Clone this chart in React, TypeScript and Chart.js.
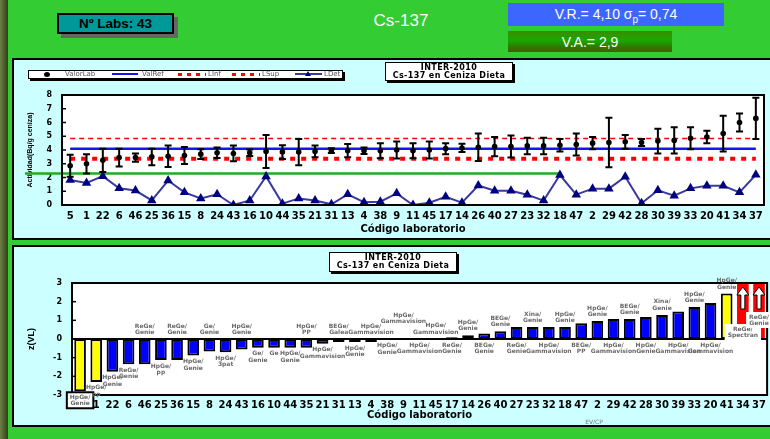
import React, { useEffect, useRef } from "react";
import { Chart, registerables } from "chart.js";
Chart.register(...registerables);

// ---------- DATA ----------
const labCodes = ["5","1","22","6","46","25","36","15","8","24","43","16","10","44","35","21","31","13","4","38","9","11","45","17","14","26","40","27","23","32","18","47","2","29","42","28","30","39","33","20","41","34","37"];
const labValues = [2.85,3.0,3.25,3.45,3.45,3.5,3.55,3.6,3.7,3.8,3.75,3.8,3.9,3.85,3.85,3.9,3.95,3.95,3.95,3.95,4.0,3.95,4.0,4.1,4.15,4.2,4.25,4.25,4.3,4.3,4.35,4.4,4.5,4.55,4.6,4.55,4.65,4.7,4.85,4.95,5.2,6.0,6.3];
const labUnc = [0.8,0.7,0.85,0.65,0.3,0.6,0.78,0.62,0.36,0.38,0.57,0.23,1.2,0.5,0.95,0.43,0.17,0.48,0.24,0.55,0.62,0.55,0.62,0.4,0.3,1.0,0.7,0.8,0.6,0.6,0.45,0.8,0.45,1.8,0.5,0.25,0.9,0.95,0.8,0.45,1.3,0.65,1.5];
const ldetValues = [1.82,1.6,2.1,1.21,1.05,0.33,1.78,0.92,0.48,0.78,0.0,0.33,2.08,0.1,0.48,0.32,0.05,0.78,0.2,0.24,0.85,0.0,0.17,0.6,0.17,1.42,1.04,1.04,0.75,0.32,2.18,0.75,1.19,1.19,2.06,0.12,1.07,0.68,1.21,1.4,1.4,0.92,2.2];
const refValue = 4.1;
const lowerLimit = 3.36;
const upperLimit = 4.84;
const greenLevel = 2.3;
const greenEndLab = "18";
const yTicksTop = { min: 0, max: 8, step: 1 };
const yTicksBottom = { min: -3, max: 3, step: 1 };

const zScores = [-2.8,-2.3,-1.76,-1.35,-1.35,-1.13,-1.13,-0.89,-0.67,-0.71,-0.56,-0.47,-0.47,-0.47,-0.47,-0.25,-0.16,-0.16,-0.16,-0.05,-0.03,-0.02,0.02,0.1,0.2,0.3,0.42,0.64,0.64,0.64,0.64,0.84,0.96,1.07,1.07,1.18,1.29,1.47,1.71,1.93,2.44,3.5,3.5];
const techLine1 = ["HpGe/","HpGe/","HpGe/","ReGe/","ReGe/","HpGe/","ReGe/","HpGe/","Ge/","HpGe/","HpGe/","Ge/","Ge","HpGe/","HpGe/","HpGe/","BEGe/","HpGe/","HpGe/","HpGe/","HpGe/","HpGe/","HpGe/","ReGe/","HpGe/","BEGe/","BEGe/","ReGe/","Xina/","HpGe/","HpGe/","BEGe/","HpGe/","HpGe/","BEGe/","HpGe/","Xina/","HpGe/","HpGe/","HpGe/","HpGe/","ReGe/","ReGe/"];
const techLine2 = ["Genie","pp","Genie","Genie","Genie","pp","Genie","Genie","Genie","3pat","Genie","Genie","","Genie","PP","Gammavision","Galea","Genie","Gammavision","Genie","Gammavision","Gammavision","Gammavision","Genie","Genie","Genie","Genie","Genie","Genie","Gammavision","Genie","PP","Genie","Gammavision","Genie","Genie","Genie","Gammavision","Genie","Gammavision","Genie","Spectran","Genie"];
const labelSide = ["B","B","B","B","A","B","A","B","A","B","A","B","B","B","A","B","A","B","A","B","A","B","A","B","A","B","A","B","A","B","A","B","A","B","A","B","A","B","A","B","A","B","A"];
const highlightLab = "5";

// ---------- PLUGINS ----------
const whiteArea = {
  id: "whiteArea",
  beforeDraw(chart: any) {
    const { ctx, chartArea: a } = chart;
    ctx.save();
    ctx.fillStyle = "#FFFFFF";
    ctx.fillRect(a.left, a.top, a.right - a.left, a.bottom - a.top);
    ctx.restore();
  },
};

const frame = {
  id: "frame",
  afterDraw(chart: any) {
    const { ctx, chartArea: a, scales } = chart;
    ctx.save();
    ctx.strokeStyle = "#000";
    ctx.lineWidth = 2;
    ctx.strokeRect(a.left, a.top, a.right - a.left, a.bottom - a.top);
    ctx.lineWidth = 1.5;
    scales.y.ticks.forEach((t: any) => {
      const yy = scales.y.getPixelForValue(t.value);
      ctx.beginPath();
      ctx.moveTo(a.left, yy);
      ctx.lineTo(a.left + 4, yy);
      ctx.stroke();
    });
    ctx.restore();
  },
};

const greenLine = {
  id: "greenLine",
  beforeDatasetsDraw(chart: any) {
    const { ctx, scales } = chart;
    const endIdx = labCodes.indexOf(greenEndLab);
    const x0 = scales.y.left + 11;
    const x1 = scales.x.getPixelForValue(endIdx);
    const yy = scales.y.getPixelForValue(greenLevel);
    ctx.save();
    ctx.strokeStyle = "#22AA22";
    ctx.lineWidth = 2.5;
    ctx.beginPath();
    ctx.moveTo(x0, yy);
    ctx.lineTo(x1, yy);
    ctx.stroke();
    ctx.restore();
  },
};

const errorBars = {
  id: "errorBars",
  beforeDatasetDraw(chart: any, args: any) {
    if (args.index !== 0) return;
    const { ctx, scales } = chart;
    const meta = chart.getDatasetMeta(0);
    ctx.save();
    ctx.strokeStyle = "#000";
    ctx.lineWidth = 2;
    labValues.forEach((v, i) => {
      const x = meta.data[i].x;
      const y1 = scales.y.getPixelForValue(v + labUnc[i]);
      const y2 = scales.y.getPixelForValue(v - labUnc[i]);
      ctx.beginPath();
      ctx.moveTo(x, y1);
      ctx.lineTo(x, y2);
      ctx.moveTo(x - 3.5, y1);
      ctx.lineTo(x + 3.5, y1);
      ctx.moveTo(x - 3.5, y2);
      ctx.lineTo(x + 3.5, y2);
      ctx.stroke();
    });
    ctx.restore();
  },
};

const zeroLine = {
  id: "zeroLine",
  afterDatasetsDraw(chart: any) {
    const { ctx, chartArea: a, scales } = chart;
    const yy = scales.y.getPixelForValue(0);
    ctx.save();
    ctx.strokeStyle = "#000";
    ctx.lineWidth = 2;
    ctx.beginPath();
    ctx.moveTo(a.left, yy);
    ctx.lineTo(a.right, yy);
    ctx.stroke();
    const meta = chart.getDatasetMeta(0);
    zScores.forEach((z, i) => {
      if (z <= scales.y.max) return;
      const x = meta.data[i].x;
      const tip = a.top + 4;
      const hw = 6, hh = 8, sw = 2;
      ctx.beginPath();
      ctx.moveTo(x, tip);
      ctx.lineTo(x + hw, tip + hh);
      ctx.lineTo(x + sw, tip + hh);
      ctx.lineTo(x + sw, tip + hh + 14);
      ctx.lineTo(x - sw, tip + hh + 14);
      ctx.lineTo(x - sw, tip + hh);
      ctx.lineTo(x - hw, tip + hh);
      ctx.closePath();
      ctx.fillStyle = "#FFFFFF";
      ctx.fill();
      ctx.lineWidth = 1;
      ctx.strokeStyle = "#000";
      ctx.stroke();
    });
    ctx.restore();
  },
};

const techLabels = {
  id: "techLabels",
  afterDraw(chart: any) {
    const { ctx, scales } = chart;
    const y = scales.y;
    const meta = chart.getDatasetMeta(0);
    const zeroY = y.getPixelForValue(0);
    const lh = 6.5;
    ctx.save();
    ctx.font = 'bold 6px "DejaVu Sans"';
    ctx.textAlign = "center";
    ctx.textBaseline = "top";
    const placed: any[] = [];
    zScores.forEach((z, i) => {
      const x = meta.data[i].x;
      const lines = [techLine1[i], techLine2[i]].filter((t) => t);
      const w = Math.max(...lines.map((t) => ctx.measureText(t).width));
      const h = lines.length * lh;
      const clipped = z > y.max || z < y.min;
      let top: number;
      if (clipped) {
        top = labelSide[i] === "A" ? zeroY - 2 * h + 1 : zeroY - h;
      } else if (labelSide[i] === "A") {
        top = y.getPixelForValue(Math.max(0, z)) - 3 - h;
        let guard = 0;
        while (
          guard++ < 5 &&
          placed.some(
            (p) =>
              Math.min(p.x1, x + w / 2) - Math.max(p.x0, x - w / 2) > 3 &&
              Math.min(p.y1, top + h) - Math.max(p.y0, top) > 3
          )
        ) {
          top -= h - 2;
        }
        placed.push({ x0: x - w / 2, x1: x + w / 2, y0: top, y1: top + h });
      } else {
        top = y.getPixelForValue(Math.min(0, z)) + 3;
      }
      const isHi = labCodes[i] === highlightLab;
      if (clipped || isHi) {
        ctx.fillStyle = "#FFFFFF";
        ctx.fillRect(x - w / 2 - 3, top - 2, w + 6, h + 3);
      }
      if (isHi) {
        ctx.strokeStyle = "#000";
        ctx.lineWidth = 2;
        ctx.strokeRect(x - w / 2 - 3, top - 2, w + 6, h + 3);
      }
      ctx.fillStyle = "#6a6a6a";
      lines.forEach((t, k) => ctx.fillText(t, x, top + k * lh));
    });
    ctx.restore();
  },
};

const tickFont = { family: "DejaVu Sans", weight: "bold" as const, size: 10 };
const yTickFont = { family: "DejaVu Sans", weight: "bold" as const, size: 8 };

function barColor(z: number) {
  const a = Math.abs(z);
  if (a > 3) return "#FF0000";
  if (a >= 2) return "#FFFF00";
  return "#0000FF";
}

// ---------- COMPONENT ----------
export default function App() {
  const topRef = useRef<HTMLCanvasElement>(null);
  const botRef = useRef<HTMLCanvasElement>(null);

  useEffect(() => {
    document.body.style.margin = "0";
    const top = new Chart(topRef.current as HTMLCanvasElement, {
      type: "line",
      data: {
        labels: labCodes,
        datasets: [
          { label: "ValorLab", data: labValues, showLine: false, pointRadius: 2.8, pointBackgroundColor: "#000", pointBorderColor: "#000", pointBorderWidth: 0 },
          { label: "ValRef", data: labCodes.map(() => refValue), borderColor: "#1414EE", borderWidth: 2.5, pointRadius: 0 },
          { label: "LInf", data: labCodes.map(() => lowerLimit), borderColor: "#FF0000", borderWidth: 4, borderDash: [5, 6], pointRadius: 0 },
          { label: "LSup", data: labCodes.map(() => upperLimit), borderColor: "#FF0000", borderWidth: 1.5, borderDash: [5, 4], pointRadius: 0 },
          { label: "LDet", data: ldetValues, borderColor: "#3a3a9e", borderWidth: 2, pointStyle: "triangle", pointRadius: 3.5, pointBackgroundColor: "#000080", pointBorderColor: "#000080", tension: 0 },
        ],
      } as any,
      options: {
        animation: false,
        responsive: false,
        events: [],
        layout: { padding: { top: 35, right: 2, left: 0, bottom: 0 } },
        plugins: { legend: { display: false }, tooltip: { enabled: false } },
        scales: {
          x: {
            offset: true,
            grid: { display: false, drawTicks: false, offset: true },
            border: { display: false },
            ticks: { autoSkip: false, maxRotation: 0, minRotation: 0, padding: 5, color: "#000", font: tickFont },
            title: { display: true, text: "Código laboratorio", color: "#000", font: { family: "DejaVu Sans", weight: "bold", size: 10 }, padding: { top: 0, bottom: 3 } },
            afterFit: (s: any) => { s.height = 33; },
          },
          y: {
            min: yTicksTop.min,
            max: yTicksTop.max,
            grid: { display: false, drawTicks: false },
            border: { display: false },
            ticks: { stepSize: yTicksTop.step, padding: 10, color: "#000", font: yTickFont },
            title: { display: true, text: "Actividad(Bq/g ceniza)", color: "#000", font: { family: "Liberation Sans", weight: "bold", size: 7 }, padding: { top: 12, bottom: 0 } },
            afterFit: (s: any) => { s.width = 48; },
          },
        },
      } as any,
      plugins: [whiteArea, greenLine, errorBars, frame],
    });

    const bot = new Chart(botRef.current as HTMLCanvasElement, {
      type: "bar",
      data: {
        labels: labCodes,
        datasets: [
          {
            label: "z",
            data: zScores,
            backgroundColor: zScores.map(barColor),
            borderColor: "#000",
            borderWidth: zScores.map((z) => (Math.abs(z) > 3 ? 0 : 2)),
            borderSkipped: false,
            barPercentage: 0.72,
            categoryPercentage: 1,
          },
        ],
      } as any,
      options: {
        animation: false,
        responsive: false,
        events: [],
        layout: { padding: { top: 36, right: 2, left: 0, bottom: 0 } },
        plugins: { legend: { display: false }, tooltip: { enabled: false } },
        scales: {
          x: {
            grid: { display: false, drawTicks: false },
            border: { display: false },
            ticks: { autoSkip: false, maxRotation: 0, minRotation: 0, padding: 4, color: "#000", font: tickFont },
            title: { display: true, text: "Código laboratorio", color: "#000", font: { family: "DejaVu Sans", weight: "bold", size: 10 }, padding: { top: 0, bottom: 4 } },
            afterFit: (s: any) => { s.height = 30; },
          },
          y: {
            min: yTicksBottom.min,
            max: yTicksBottom.max,
            grid: { display: false, drawTicks: false },
            border: { display: false },
            ticks: { stepSize: yTicksBottom.step, padding: 10, color: "#000", font: yTickFont },
            title: { display: true, text: "z(VL)", color: "#000", font: { family: "Liberation Sans", weight: "bold", size: 9 }, padding: { top: 12, bottom: 0 } },
            afterFit: (s: any) => { s.width = 58; },
          },
        },
      } as any,
      plugins: [whiteArea, zeroLine, frame, techLabels],
    });

    return () => {
      top.destroy();
      bot.destroy();
    };
  }, []);

  const abs = (l: number, t: number, w: number, h: number, extra: any = {}) => ({
    position: "absolute" as const, left: l, top: t, width: w, height: h, boxSizing: "border-box" as const, ...extra,
  });
  const narrow = '"Liberation Sans Narrow", "Arial Narrow", "Liberation Sans", sans-serif';
  const legText = { position: "absolute" as const, top: 70, height: 9, lineHeight: "9px", fontFamily: "DejaVu Sans", fontSize: 7, color: "#555" };
  const redDash = "repeating-linear-gradient(to right, #FF0000 0px, #FF0000 4px, transparent 4px, transparent 9px)";
  const titleBox = (l: number, t: number, h: number) => (
    <div style={abs(l, t, 128, h, { background: "#fff", border: "1px solid #000", boxShadow: "2px 2px 0 #000", textAlign: "center", fontFamily: "DejaVu Sans", fontWeight: "bold", fontSize: 8, lineHeight: "8px", paddingTop: 1, letterSpacing: 0.4, color: "#000" })}>
      <div>INTER-2010</div>
      <div>Cs-137 en Ceniza Dieta</div>
    </div>
  );

  return (
    <div style={{ position: "fixed", left: 0, top: 0, width: 770, height: 439, overflow: "hidden", background: "#33CC33", fontFamily: "Liberation Sans, Arial, sans-serif" }}>
      <div style={abs(0, 0, 8, 439, { background: "linear-gradient(to right, #6b7f45, #2f3f15)" })} />

      {/* header */}
      <div style={abs(57, 13, 117, 21, { background: "#009999", border: "2px solid #000", boxShadow: "4px 4px 0 #666", textAlign: "center", fontFamily: narrow, fontWeight: "bold", fontSize: 13.5, lineHeight: "17px", color: "#000" })}>
        Nº Labs: 43
      </div>
      <div style={abs(300, 12, 202, 17, { textAlign: "center", color: "#fff", fontSize: 17, lineHeight: "17px" })}>Cs-137</div>
      <div style={abs(508, 3, 216, 23, { background: "#3D66FF", textAlign: "center", color: "#fff", fontFamily: narrow, fontSize: 14, lineHeight: "22px" })}>
        V.R.= 4,10 σ<sub style={{ fontSize: 10, lineHeight: 0 }}>p</sub>= 0,74
      </div>
      <div style={abs(508, 31, 164, 21, { background: "linear-gradient(to bottom, #3a8c00 0%, #1aa800 45%, #2c7a00 75%, #4a5a00 100%)", textAlign: "center", color: "#fff", fontFamily: narrow, fontSize: 14, lineHeight: "22px" })}>
        V.A.= 2,9
      </div>

      {/* panels */}
      <div style={abs(12, 58, 762, 182, { background: "#CCFFFF", border: "2px solid #000" })} />
      <div style={abs(12, 245, 762, 182, { background: "#CCFFFF", border: "2px solid #000" })} />

      <canvas ref={topRef} width={756} height={178} style={{ position: "absolute", left: 14, top: 60, width: 756, height: 178 }} />
      <canvas ref={botRef} width={756} height={178} style={{ position: "absolute", left: 14, top: 247, width: 756, height: 178 }} />

      {/* legend */}
      <div style={abs(28, 70, 315, 9, { background: "#fff", border: "1px solid #000", boxShadow: "2px 2px 0 #000" })} />
      <div style={abs(44, 72, 6, 5, { background: "#000", borderRadius: "50%" })} />
      <div style={{ ...legText, left: 65 }}>ValorLab</div>
      <div style={abs(112, 73, 26, 2, { background: "#1414EE" })} />
      <div style={{ ...legText, left: 142 }}>ValRef</div>
      <div style={abs(178, 73, 28, 3, { background: redDash })} />
      <div style={{ ...legText, left: 208 }}>LInf</div>
      <div style={abs(232, 73, 28, 3, { background: redDash })} />
      <div style={{ ...legText, left: 262 }}>LSup</div>
      <div style={abs(295, 73, 27, 2, { background: "#3a3a9e" })} />
      <div style={{ position: "absolute", left: 305, top: 71, width: 0, height: 0, borderLeft: "3px solid transparent", borderRight: "3px solid transparent", borderBottom: "5px solid #000080" }} />
      <div style={{ ...legText, left: 324 }}>LDet</div>

      {titleBox(385, 62, 19)}
      {titleBox(329, 252, 20)}

      <div style={abs(570, 418, 48, 8, { textAlign: "center", fontFamily: "DejaVu Sans", fontSize: 6, lineHeight: "8px", color: "#777" })}>EV/CP</div>
    </div>
  );
}
